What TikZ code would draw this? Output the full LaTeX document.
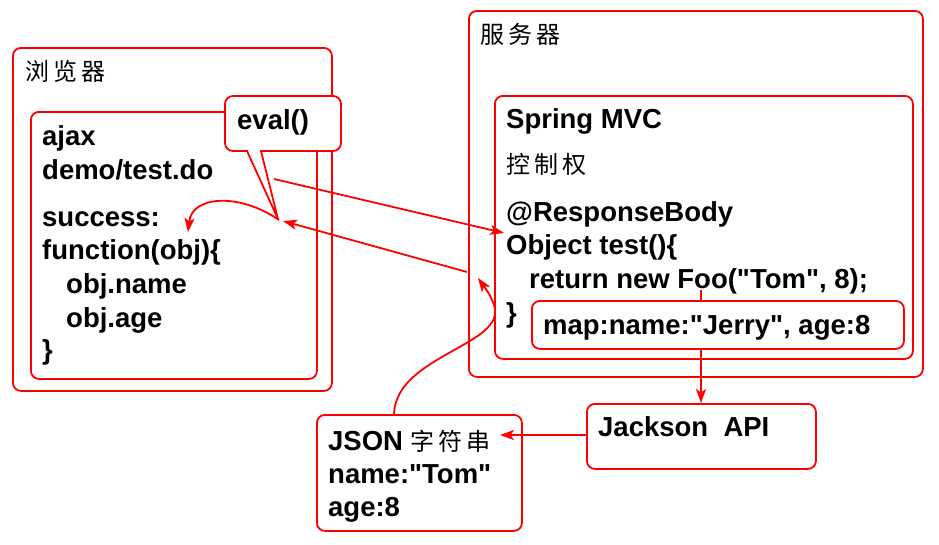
\documentclass[tikz,border=0pt]{standalone}
\usepackage{fontspec}
\setmainfont{Liberation Sans}
\newfontfamily\cjk{Noto Sans CJK SC}
\usetikzlibrary{arrows.meta}
\newcommand\qt{\XeTeXglyph\XeTeXcharglyph"22\relax}
\begin{document}
\begin{tikzpicture}[x=1pt,y=-1pt,
  box/.style={draw=red, line width=1.8pt, rounded corners=8pt, fill=white, anchor=north west, inner sep=0pt},
  code/.style={anchor=base west, inner sep=0pt, font=\fontsize{27.5}{32}\selectfont\bfseries},
  zh/.style={anchor=base west, inner sep=0pt, font=\fontsize{24}{28}\selectfont\cjk},
  arr/.style={draw=red, line width=1.8pt, -{Stealth[length=14pt,width=10pt,inset=3.5pt]}}]
\useasboundingbox (0,0) rectangle (939,544);
% browser
\node[box, minimum width=319pt, minimum height=343pt] (browser) at (12,47) {};
\node[zh] (browserlbl) at (25,80) {浏\,览\,器};
\node[box, minimum width=286pt, minimum height=267pt] (inner) at (30,111) {};
% callout
\draw[draw=red, line width=1.8pt, fill=white]
  (247,151) [rounded corners=8pt] -- (225,151) -- (225,96) -- (341,96) -- (341,151) -- (300,151)
  [sharp corners] -- (261,151) -- (278,219) -- cycle;
\node[code] (eval) at (237,129) {eval()};
\coordinate (evaltip) at (279,220);
\node[code] (l1) at (42,145) {ajax};
\node[code] (l2) at (42,179) {demo/test.do};
\node[code] (l3) at (42,226) {success:};
\node[code] (l4) at (42,259) {function(obj)\{};
\node[code] (l5) at (66,293) {obj.name};
\node[code] (l6) at (66,327) {obj.age};
\node[code] (l7) at (42,359) {\}};
% server
\node[box, minimum width=454pt, minimum height=366pt] (server) at (468,10) {};
\node[zh] (serverlbl) at (480,43) {服\,务\,器};
\node[box, minimum width=418pt, minimum height=263pt] (spring) at (494,95) {};
\node[code] (s1) at (506,128) {Spring MVC};
\node[zh] (s2) at (506,173) {控\,制\,权};
\node[code] (s3) at (506,221) {@ResponseBody};
\node[code] (s4) at (506,254) {Object test()\{};
\node[code] (s5) at (529,288) {return new Foo(\qt Tom\qt, 8);};
\node[code] (s6) at (506,322) {\}};
% Jackson
\node[box, minimum width=229pt, minimum height=65pt] (jackson) at (586,403) {};
\node[code] (jtext) at (598,436) {Jackson\ \ API};
\coordinate (foo) at (701,290);
\draw[arr] (foo) -- (foo |- jackson.north);
\node[box, minimum width=372pt, minimum height=48pt] (map) at (531,300) {};
\node[code] (maptext) at (543,334) {map:name:\qt Jerry\qt, age:8};
% JSON
\node[box, minimum width=205pt, minimum height=116pt] (json) at (316,414) {};
\node[code] (j1) at (328,450) {JSON \cjk\mdseries\fontsize{24}{28}\selectfont 字\,符\,串};
\node[code] (j2) at (328,483) {name:\qt Tom\qt};
\node[code] (j3) at (328,516) {age:8};
\draw[arr] (jackson.west |- 0,435) -- (500,435);
% arrows
\coordinate (req) at (274,179);
\coordinate (obj) at (504,233);
\draw[arr] (req) -- (obj);
\coordinate (back) at (467,272);
\coordinate (backtip) at (283,221);
\draw[arr] (back) -- (backtip);
\coordinate (jsonstart) at (394,414);
\draw[arr] (jsonstart) .. controls (396,355) and (508,345) .. (494,305) .. controls (490,295) .. (478,278);
\draw[arr] (evaltip) .. controls (240,193) and (192,195) .. (188,232);
\end{tikzpicture}
\end{document}
